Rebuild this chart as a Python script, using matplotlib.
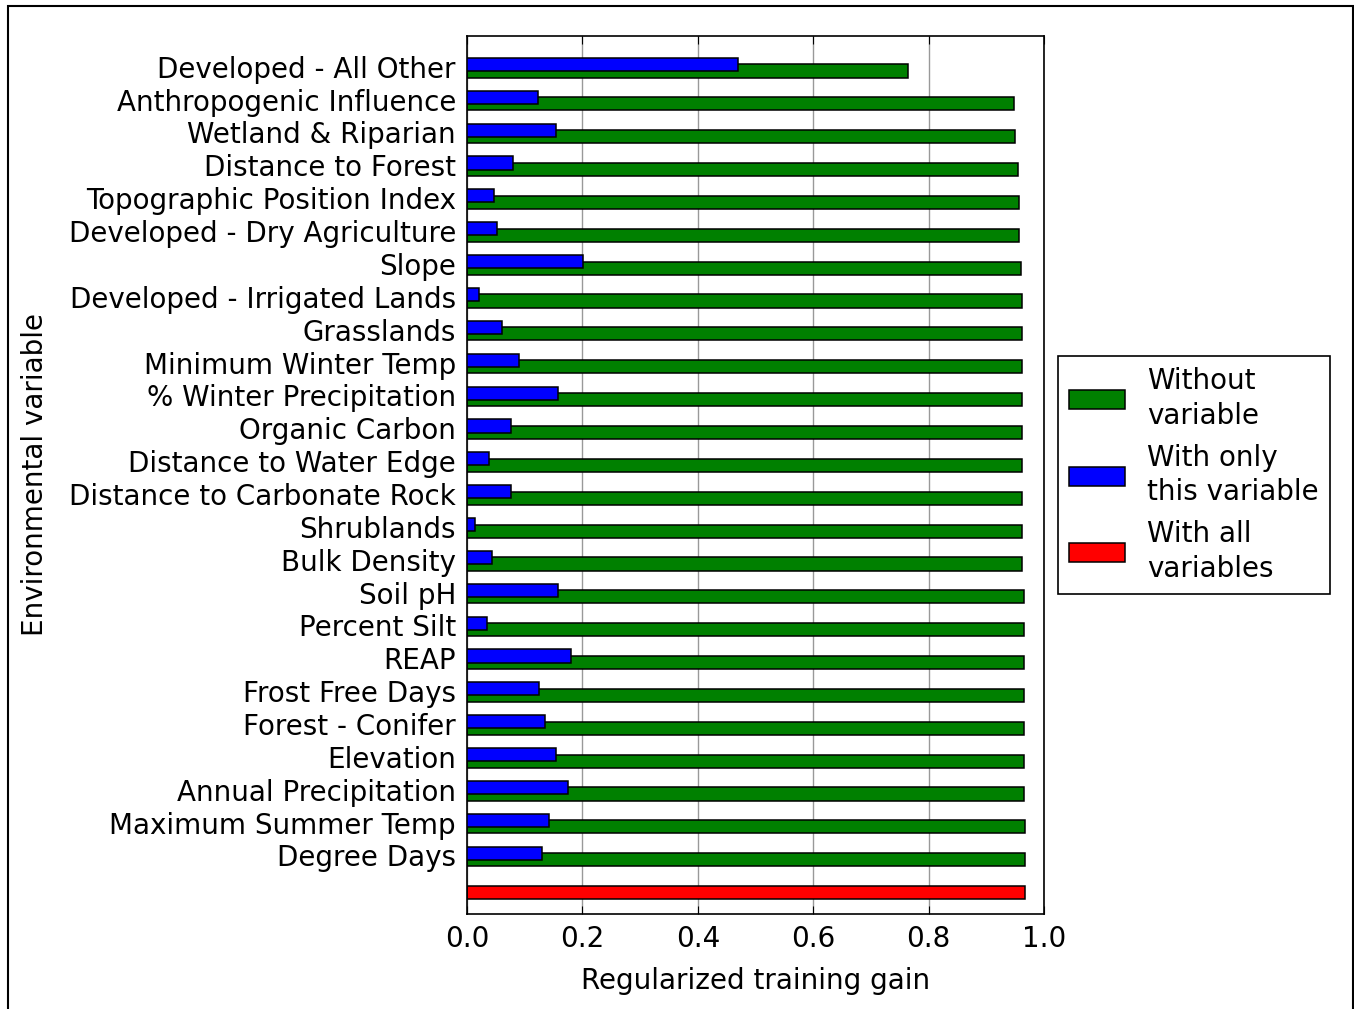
import numpy as np
from matplotlib import pyplot as plt
import matplotlib.patches as patches

# environmental variables, top to bottom as drawn
variables = ["Developed - All Other", "Anthropogenic Influence", "Wetland & Riparian",
             "Distance to Forest", "Topographic Position Index", "Developed - Dry Agriculture",
             "Slope", "Developed - Irrigated Lands", "Grasslands", "Minimum Winter Temp",
             "% Winter Precipitation", "Organic Carbon", "Distance to Water Edge",
             "Distance to Carbonate Rock", "Shrublands", "Bulk Density", "Soil pH",
             "Percent Silt", "REAP", "Frost Free Days", "Forest - Conifer", "Elevation",
             "Annual Precipitation", "Maximum Summer Temp", "Degree Days"]

# regularized training gain
without_var = [0.764, 0.948, 0.950, 0.954, 0.956, 0.956, 0.960, 0.962, 0.962, 0.962,
               0.962, 0.962, 0.962, 0.962, 0.962, 0.962, 0.965, 0.965, 0.965, 0.965,
               0.965, 0.965, 0.965, 0.9675, 0.9675]
only_var = [0.469, 0.1225, 0.154, 0.079, 0.046, 0.052, 0.2007, 0.0205, 0.061, 0.0907,
            0.158, 0.0755, 0.038, 0.076, 0.0146, 0.0437, 0.158, 0.034, 0.180, 0.125,
            0.136, 0.154, 0.175, 0.142, 0.130]
all_vars = 0.9675

legend_labels = ["Without\nvariable", "With only\nthis variable", "With all\nvariables"]

if __name__ == '__main__':
	plt.rcParams['font.family'] = ['DejaVu Sans']
	plt.rcParams['font.size'] = 20

	fig = plt.figure(figsize=(13.54, 10.09), dpi=100)
	ax = fig.add_axes([0.3449, 0.0942, 0.4262, 0.8701])

	pos = np.arange(len(variables))
	h = 0.4
	g = ax.barh(pos + 0.1, without_var, height=h, color=(0, 0.5, 0), edgecolor='black', linewidth=1.1, zorder=2)
	b = ax.barh(pos - 0.1, only_var, height=h, color=(0, 0, 1), edgecolor='black', linewidth=1.1, zorder=3)
	r = ax.barh([len(variables) + 0.1], [all_vars], height=h, color=(1, 0, 0), edgecolor='black', linewidth=1.1, zorder=2)

	ax.set_yticks(pos - 0.03)
	ax.set_yticklabels(variables)
	ax.set_ylim(25.75, -0.965)
	ax.set_xlim(0, 1.0)
	ax.set_xticks([0.0, 0.2, 0.4, 0.6, 0.8, 1.0])
	ax.set_xticklabels(['0.0', '0.2', '0.4', '0.6', '0.8', '1.0'])
	ax.tick_params(axis='y', length=0, pad=8, labelsize=20)
	ax.tick_params(axis='x', direction='in', length=6, top=True, pad=8, labelsize=20)
	ax.xaxis.grid(True, color='#999999', linewidth=1, zorder=0)
	ax.set_axisbelow(True)
	for s in ax.spines.values():
		s.set_linewidth(1.2)

	ax.set_xlabel('Regularized training gain', fontsize=20, labelpad=10)
	ax.set_ylabel('Environmental variable', fontsize=20, labelpad=14)

	leg = ax.legend([g, b, r], legend_labels, loc='center left', bbox_to_anchor=(1.0, 0.5),
	                fancybox=False, frameon=True, edgecolor='black', fontsize=20,
	                handlelength=2.0, handleheight=0.7, labelspacing=0.5,
	                handletextpad=0.8, borderpad=0.4, borderaxespad=0.5)
	for t in leg.get_texts():
		t.set_linespacing(1.3)
	leg.get_frame().set_linewidth(1.2)
	leg.get_frame().set_alpha(1)

	# outer frame of the picture
	fig.add_artist(patches.Rectangle((8 / 1354, -0.05), 1345 / 1354, 1.05 - 6 / 1009,
	                                 transform=fig.transFigure, fill=False,
	                                 edgecolor='black', linewidth=1.5))

	fig.savefig('out.png', dpi=100, facecolor='white')
